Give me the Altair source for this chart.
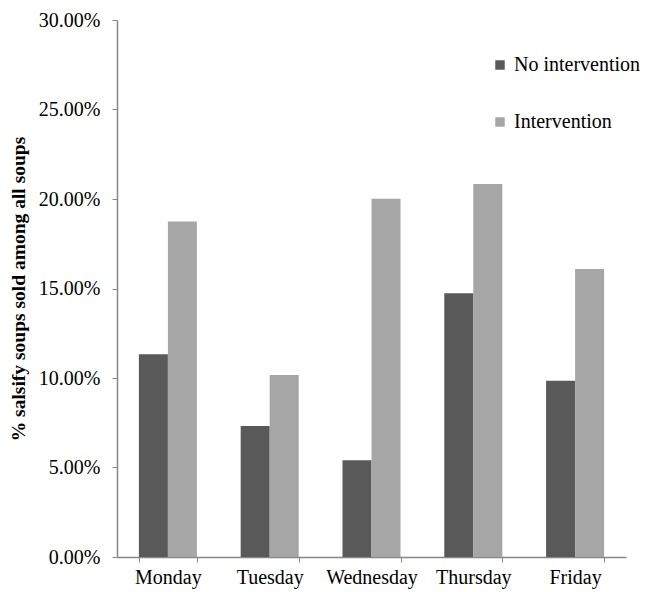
import altair as alt
import pandas as pd

days = ["Monday", "Tuesday", "Wednesday", "Thursday", "Friday"]
series = ["No intervention", "Intervention"]
no_intervention = [0.1133, 0.0732, 0.0540, 0.1473, 0.0985]
intervention = [0.1875, 0.1017, 0.2002, 0.2084, 0.1609]

rows = []
for d, a, b in zip(days, no_intervention, intervention):
    rows.append({"day": d, "group": series[0], "value": a})
    rows.append({"day": d, "group": series[1], "value": b})
df = pd.DataFrame(rows)

FONT = "Liberation Serif"

chart = (
    alt.Chart(df)
    .mark_bar()
    .encode(
        x=alt.X(
            "day:N",
            sort=days,
            title=None,
            scale=alt.Scale(paddingInner=0.43, paddingOuter=0.215),
            axis=alt.Axis(
                labelAngle=0,
                labelFont=FONT,
                labelFontSize=20,
                labelColor="black",
                labelPadding=5,
                tickSize=5,
                tickColor="#868686",
                domainColor="#868686",
                domainWidth=1.5,
                tickBand="extent",
            ),
        ),
        xOffset=alt.XOffset("group:N", sort=series),
        y=alt.Y(
            "value:Q",
            title="% salsify soups sold among all soups",
            scale=alt.Scale(domain=[0, 0.30], nice=False),
            axis=alt.Axis(
                values=[0, 0.05, 0.10, 0.15, 0.20, 0.25, 0.30],
                format=".2%",
                grid=False,
                labelFont=FONT,
                labelFontSize=20,
                labelColor="black",
                labelPadding=12,
                tickSize=5,
                tickColor="#868686",
                domainColor="#868686",
                domainWidth=1.5,
                titleFont=FONT,
                titleFontSize=19.5,
                titleFontWeight="bold",
                titleColor="black",
                titlePadding=10,
            ),
        ),
        color=alt.Color(
            "group:N",
            sort=series,
            scale=alt.Scale(domain=series, range=["#595959", "#a6a6a6"]),
            legend=alt.Legend(
                title=None,
                orient="none",
                legendX=373,
                legendY=35,
                symbolType="square",
                symbolSize=90,
                symbolStrokeWidth=0,
                labelFont=FONT,
                labelFontSize=20,
                labelColor="black",
                rowPadding=37,
                labelOffset=4,
            ),
        ),
    )
    .properties(
        width=509,
        height=537,
        autosize=alt.AutoSizeParams(type="none"),
        padding={"left": 117, "top": 20, "right": 36, "bottom": 35},
    )
    .configure(background="white", font=FONT)
    .configure_view(stroke=None)
    .configure_legend(labelFont=FONT)
    .configure_axis(labelFont=FONT, titleFont=FONT)
)

chart.save("out.html", embed_options={"renderer": "svg", "actions": False})
